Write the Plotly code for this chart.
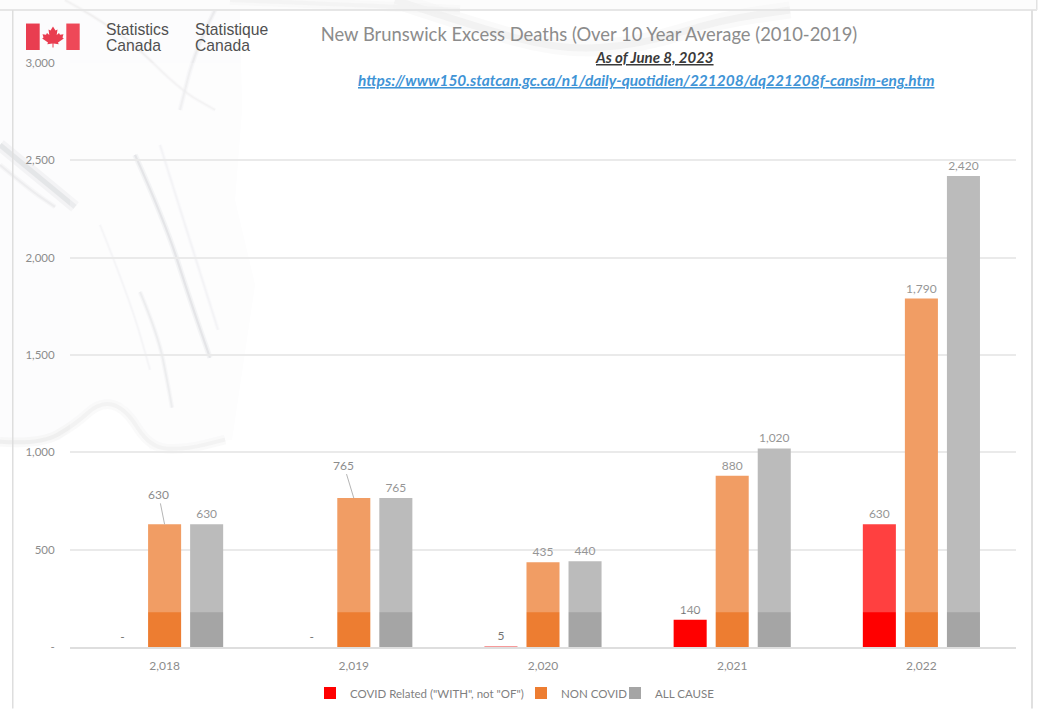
import plotly.graph_objects as go

years = ["2,018", "2,019", "2,020", "2,021", "2,022"]
covid = [0, 0, 5, 140, 630]
non_covid = [630, 765, 435, 880, 1790]
all_cause = [630, 765, 440, 1020, 2420]
y_ticks = [0, 500, 1000, 1500, 2000, 2500, 3000]
y_labels = ["-", "500", "1,000", "1,500", "2,000", "2,500", "3,000"]
leader_years = ["2,018", "2,019"]
leader_offsets = [(-6, -30), (-10, -33)]
covid_colors = ["#ff0000", "#ff0000", "#f79a9a", "#ff0000", "#ff0000"]

L, R, T, B = 70, 1016, 63, 647.5
FONT = "Lato"
GREY = "#8c8c8c"


def px(x, y):
    return (x - L) / (R - L), (B - y) / (B - T)


def path(points, close=False):
    parts = []
    for i, (x, y) in enumerate(points):
        a, b = px(x, y)
        parts.append(("M" if i == 0 else "L") + f"{a:.5f},{b:.5f}")
    return " ".join(parts) + (" Z" if close else "")


def curve(points):
    a, b = px(*points[0])
    d = f"M{a:.5f},{b:.5f}"
    for i in range(1, len(points) - 1):
        c1 = px(*points[i])
        mx = (points[i][0] + points[i + 1][0]) / 2
        my = (points[i][1] + points[i + 1][1]) / 2
        m = px(mx, my)
        d += f" Q{c1[0]:.5f},{c1[1]:.5f} {m[0]:.5f},{m[1]:.5f}"
    e = px(*points[-1])
    return d + f" L{e[0]:.5f},{e[1]:.5f}"


def rect(x0, y0, x1, y1, fill, layer="below"):
    a, b = px(x0, y0)
    c, d = px(x1, y1)
    return dict(type="rect", xref="paper", yref="paper", x0=a, y0=b, x1=c, y1=d,
                fillcolor=fill, line_width=0, layer=layer)


def stroke(points, color, width, opacity=1.0):
    return dict(type="path", xref="paper", yref="paper", path=curve(points), opacity=opacity,
                line=dict(color=color, width=width), fillcolor="rgba(0,0,0,0)", layer="below")


def fmt(values):
    return [f"{v:,}" if v else "-" for v in values]


shapes = []
# faded marble watermark
blob = [(0, 10), (240, 10), (242, 110), (235, 200), (255, 285), (232, 440), (150, 450),
        (125, 405), (100, 402), (60, 440), (0, 442)]
shapes.append(dict(type="path", xref="paper", yref="paper", path=path(blob, True),
                   fillcolor="#fcfcfd", line_width=0, layer="below"))
for pts, c, w in [
    ([(0, 442), (40, 445), (75, 425), (100, 402), (125, 408), (150, 448), (185, 450), (225, 440)], "#ececec", 4),
    ([(135, 155), (165, 222), (190, 300), (210, 358)], "#d4d6d9", 2.2),
    ([(140, 292), (158, 335), (168, 385), (172, 408)], "#e2e3e6", 1.8),
    ([(160, 145), (185, 225), (218, 330)], "#eeeef1", 1.5),
    ([(0, 145), (40, 178), (75, 207)], "#dfe1e3", 5),
    ([(0, 165), (30, 190), (55, 207)], "#eaeaec", 2),
    ([(100, 225), (130, 300), (150, 370)], "#f0f0f2", 1.2),
    ([(65, 0), (120, 30), (180, 90), (215, 110)], "#eeeded", 1.5),
    ([(215, 10), (195, 50), (180, 110)], "#e8e8ea", 2),
    ([(395, 0), (470, 25), (560, 50), (640, 45), (720, 20), (790, 10)], "#efefef", 7),
    ([(230, 0), (360, 5), (460, 10)], "#f1f1f1", 4),
]:
    shapes.append(stroke(pts, c, w * 2.4, 0.3))
    shapes.append(stroke(pts, c, w, 0.7))

# page frame
shapes.append(rect(0, 0, 1037, 9.5, "rgba(245,245,245,0.35)"))
shapes.append(rect(1036, 0, 1037.5, 10, "#e2e2e2"))
shapes.append(rect(0, 9, 1037, 11, "#e6e6e6"))
shapes.append(rect(12, 10, 13.5, 709, "#dedede"))
shapes.append(rect(1031, 10, 1033, 709, "#e0e0e0"))

# translucent picture laid over the upper part of the bars
shapes.append(rect(L, T, R, 612.7, "rgba(255,255,255,0.25)", "above"))

# flag
shapes.append(rect(26, 23.5, 39.7, 50, "#e93d50", "above"))
shapes.append(rect(66.3, 23.5, 79.7, 50, "#ee4858", "above"))
leaf = [(53, 26.5), (55.5, 30.5), (57.5, 29.5), (56.7, 35), (59, 33), (60, 34.8), (63.5, 34.3),
        (62.5, 37.5), (63.8, 38.5), (58, 42.5), (58.7, 44.2), (53.5, 43.6), (53.5, 47.5), (52.5, 47.5),
        (52.5, 43.6), (47.3, 44.2), (48, 42.5), (42.2, 38.5), (43.5, 37.5), (42.5, 34.3), (46, 34.8),
        (47, 33), (49.3, 35), (48.5, 29.5), (50.5, 30.5)]
shapes.append(dict(type="path", xref="paper", yref="paper", path=path(leaf, True),
                   fillcolor="#e93d50", line_width=0, layer="above"))


def note(x, y, text, size, color, family=FONT, anchor="center"):
    a, b = px(x, y)
    return dict(xref="paper", yref="paper", x=a, y=b, text=text, showarrow=False,
                xanchor=anchor, yanchor="middle", font=dict(size=size, color=color, family=family))


annotations = [
    note(654, 56.5, "<b><i><u>As of June 8, 2023</u></i></b>", 15, "#3a3a3a"),
    note(645.5, 80.5, "<b><i><u>https://www150.statcan.gc.ca/n1/daily-quotidien/221208/dq221208f-cansim-eng.htm</u></i></b>",
         15.45, "#3f94d6"),
    note(104, 29.5, "Statistics", 15.7, "#505050", "Liberation Sans", "left"),
    note(104, 45, "Canada", 15.7, "#505050", "Liberation Sans", "left"),
    note(192.5, 29.5, "Statistique", 15.7, "#505050", "Liberation Sans", "left"),
    note(192.5, 45, "Canada", 15.7, "#505050", "Liberation Sans", "left"),
]
for year, (ax, ay) in zip(leader_years, leader_offsets):
    i = years.index(year)
    annotations.append(dict(x=year, y=non_covid[i], xref="x", yref="y", text=f"{non_covid[i]:,}",
                            showarrow=True, arrowhead=0, arrowwidth=1, arrowcolor="#b5b5b5",
                            ax=ax, ay=ay, standoff=0, font=dict(size=12, color=GREY, family=FONT)))

non_text = [("" if y in leader_years else t) for y, t in zip(years, fmt(non_covid))]

fig = go.Figure()
series = [
    ('COVID Related ("WITH", not "OF")', covid, covid_colors, fmt(covid), "legend"),
    ("NON COVID", non_covid, "#ed7d31", non_text, "legend2"),
    ("ALL CAUSE", all_cause, "#a5a5a5", fmt(all_cause), "legend3"),
]
for name, vals, color, text, leg in series:
    fig.add_trace(go.Bar(name=name, x=years, y=vals, legend=leg, showlegend=True,
                         marker=dict(color=color, line=dict(width=7, color="rgba(255,255,255,0)")),
                         text=text, textposition="outside", cliponaxis=False,
                         textfont=dict(size=12, color="#727272", family=FONT)))


def legend_at(text_start):
    a = (text_start - 40 - L) / (R - L)
    return dict(orientation="h", x=a, y=1 - 693 / 709, xref="paper", yref="container",
                xanchor="left", yanchor="middle", visible=True,
                font=dict(size=11.5, color="#7f7f7f"), bgcolor="rgba(0,0,0,0)",
                itemclick=False, itemdoubleclick=False)


fig.update_layout(
    width=1050, height=709, autosize=False, showlegend=True,
    margin=dict(l=L, r=1050 - R, t=T, b=709 - B, pad=0),
    paper_bgcolor="white", plot_bgcolor="rgba(0,0,0,0)",
    barmode="group", bargap=1 / 3, bargroupgap=0.214,
    font=dict(family=FONT, color=GREY, size=12),
    title=dict(text="New Brunswick Excess Deaths (Over 10 Year Average (2010-2019)", automargin=False,
               x=589 / 1050, xanchor="center", xref="container",
               y=1 - 35 / 709, yanchor="middle", yref="container",
               font=dict(size=18.4, color="#8c8c8c", family=FONT)),
    xaxis=dict(type="category", automargin=False, showgrid=False, showline=True, linecolor="#dedede", linewidth=2,
               ticks="outside", ticklen=7, tickcolor="rgba(0,0,0,0)", tickfont=dict(size=12, color=GREY)),
    yaxis=dict(range=[0, 3000], automargin=False, tickmode="array", tickvals=y_ticks, ticktext=y_labels,
               showgrid=True, gridcolor="#e3e3e3", gridwidth=1.5, zeroline=False,
               ticks="outside", ticklen=12, tickcolor="rgba(0,0,0,0)", tickfont=dict(size=11.5, color=GREY)),
    legend=legend_at(350), legend2=legend_at(561), legend3=legend_at(655),
    shapes=shapes, annotations=annotations,
)

fig.write_html("out.html", config={"displayModeBar": False},
               post_script="document.body.style.margin='0';document.body.style.overflow='hidden';")
